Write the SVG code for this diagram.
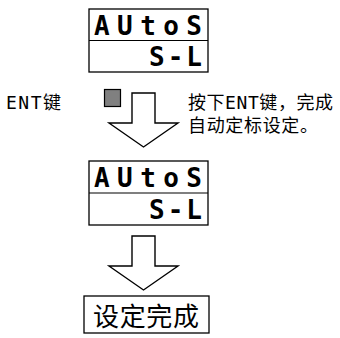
<svg xmlns="http://www.w3.org/2000/svg" width="340" height="338" viewBox="0 0 340 338">
<style>
.box{fill:#fff;stroke:#000;stroke-width:1.3}
.seg{font-family:"DejaVu Sans Mono","Liberation Mono",monospace;font-weight:bold;font-size:26px;fill:#000}
.lbl{font-family:"DejaVu Sans Mono","Noto Sans CJK SC",monospace;font-size:18px;fill:#000}
.big{font-family:"Noto Sans CJK SC",sans-serif;font-size:26px;fill:#000}
.arrow{fill:#fff;stroke:#000;stroke-width:1.4;stroke-linejoin:miter}
</style>
<g id="display1">
<rect class="box" x="89" y="9" width="119" height="63"/>
<line x1="89" y1="40.5" x2="208" y2="40.5" stroke="#000" stroke-width="1.2"/>
<text class="seg" x="94" y="35" textLength="108" lengthAdjust="spacing">AUtoS</text>
<text class="seg" x="149" y="66" textLength="53" lengthAdjust="spacing">S-L</text>
</g>
<g id="ent-key">
<text class="lbl" x="6" y="109" textLength="55" lengthAdjust="spacing">ENT键</text>
<rect x="104.5" y="89.5" width="16" height="17" fill="#808080" stroke="#000" stroke-width="1.2"/>
</g>
<g id="note">
<text class="lbl" x="188" y="109" textLength="145" lengthAdjust="spacing">按下ENT键，完成</text>
<text class="lbl" x="188" y="132" textLength="130" lengthAdjust="spacing">自动定标设定。</text>
</g>
<g id="connectors">
<polygon class="arrow" points="132,93 155,93 155,123 178,123 143.5,147 109,123 132,123"/>
<polygon class="arrow" points="132,236 155,236 155,266 178,266 143.5,290 109,266 132,266"/>
</g>
<g id="display2">
<rect class="box" x="89" y="161" width="119" height="64"/>
<line x1="89" y1="193" x2="208" y2="193" stroke="#000" stroke-width="1.2"/>
<text class="seg" x="94" y="187" textLength="108" lengthAdjust="spacing">AUtoS</text>
<text class="seg" x="149" y="219" textLength="53" lengthAdjust="spacing">S-L</text>
</g>
<g id="done">
<rect class="box" x="84" y="296" width="125" height="37"/>
<text class="big" x="93" y="326" textLength="106" lengthAdjust="spacing">设定完成</text>
</g>
</svg>
